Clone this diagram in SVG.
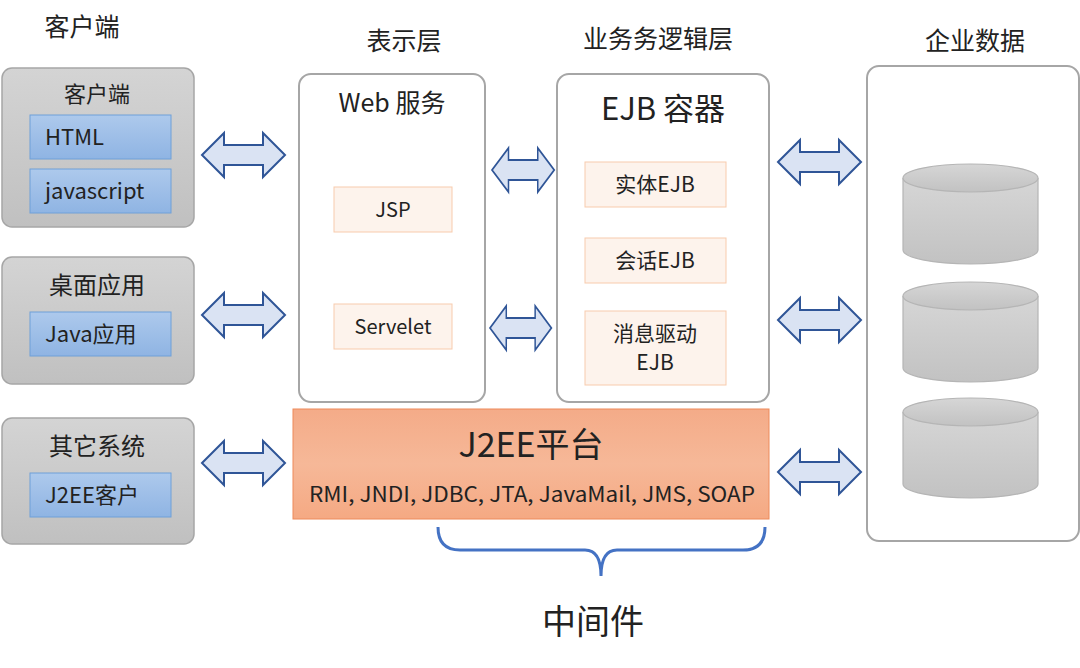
<svg xmlns="http://www.w3.org/2000/svg" width="1080" height="668" viewBox="0 0 1080 668">
<style>
text{font-family:"Noto Sans CJK SC","Noto Sans",sans-serif;fill:#222;text-anchor:middle}
.g{fill:url(#gr);stroke:#a6a6a6;stroke-width:1.5}
.b{fill:url(#bl);stroke:#6fa0d8;stroke-width:1}
.w{fill:#fff;stroke:#a6a6a6;stroke-width:2}
.o{fill:#fdf3ec;stroke:#f8cbad;stroke-width:1}
.ar{fill:#dae3f3;stroke:#2f5597;stroke-width:2}
.cy{fill:url(#cg);stroke:#b5b5b5;stroke-width:1.2}
</style>
<defs>
<linearGradient id="gr" x1="0" y1="0" x2="0" y2="1"><stop offset="0" stop-color="#d4d4d4"/><stop offset="1" stop-color="#c0c0c0"/></linearGradient>
<linearGradient id="bl" x1="0" y1="0" x2="0" y2="1"><stop offset="0" stop-color="#adc9ec"/><stop offset="1" stop-color="#8fb4e3"/></linearGradient>
<linearGradient id="og" x1="0" y1="0" x2="0" y2="1"><stop offset="0" stop-color="#f4ab88"/><stop offset="0.5" stop-color="#f6b898"/><stop offset="1" stop-color="#f5a983"/></linearGradient>
<linearGradient id="cg" x1="0" y1="0" x2="0" y2="1"><stop offset="0" stop-color="#d6d6d6"/><stop offset="1" stop-color="#c2c2c2"/></linearGradient>
<path id="arr" d="M0,0 L22,-22 L22,-10 L61,-10 L61,-22 L83,0 L61,22 L61,10 L22,10 L22,22 Z"/>
<g id="cyl"><path class="cy" d="M0,14 L0,86 A67.5,14 0 0 0 135,86 L135,14"/><ellipse class="cy" cx="67.5" cy="14" rx="67.5" ry="14"/></g>
</defs>
<text x="82" y="36" font-size="25">客户端</text>
<text x="404" y="50" font-size="25">表示层</text>
<text x="658" y="48" font-size="25">业务务逻辑层</text>
<text x="975" y="50" font-size="25">企业数据</text>
<g id="client1"><rect class="g" x="2" y="68" width="192" height="159" rx="10"/><text x="97" y="102" font-size="22">客户端</text>
<rect class="b" x="30" y="115" width="141" height="44"/><text x="45" y="145" font-size="22" style="text-anchor:start">HTML</text>
<rect class="b" x="30" y="169" width="141" height="44"/><text x="45" y="199" font-size="22" style="text-anchor:start">javascript</text></g>
<g id="client2"><rect class="g" x="2" y="257" width="192" height="127" rx="10"/><text x="97" y="294" font-size="24">桌面应用</text>
<rect class="b" x="30" y="312" width="141" height="44"/><text x="45" y="342" font-size="22" style="text-anchor:start">Java应用</text></g>
<g id="client3"><rect class="g" x="2" y="418" width="192" height="126" rx="10"/><text x="97" y="455" font-size="24">其它系统</text>
<rect class="b" x="30" y="473" width="141" height="44"/><text x="45" y="503" font-size="22" style="text-anchor:start">J2EE客户</text></g>
<g id="web"><rect class="w" x="299" y="74" width="186" height="328" rx="12"/><text x="392" y="112" font-size="25">Web 服务</text>
<rect class="o" x="334" y="187" width="118" height="45"/><text x="393" y="217" font-size="20">JSP</text>
<rect class="o" x="334" y="304" width="118" height="45"/><text x="393" y="334" font-size="20">Servelet</text></g>
<g id="ejb"><rect class="w" x="557" y="74" width="212" height="328" rx="12"/><text x="663" y="120" font-size="31">EJB 容器</text>
<rect class="o" x="585" y="162" width="141" height="45"/><text x="655" y="192" font-size="21">实体EJB</text>
<rect class="o" x="585" y="238" width="141" height="45"/><text x="655" y="268" font-size="21">会话EJB</text>
<rect class="o" x="585" y="311" width="141" height="74"/><text x="655" y="341" font-size="21">消息驱动</text><text x="655" y="370" font-size="21">EJB</text></g>
<g id="j2ee"><rect x="293" y="409" width="476" height="110" fill="url(#og)" stroke="#ed8a5a" stroke-width="1"/><text x="531" y="457" font-size="34">J2EE平台</text><text x="532" y="502" font-size="21" textLength="446" lengthAdjust="spacingAndGlyphs">RMI, JNDI, JDBC, JTA, JavaMail, JMS, SOAP</text></g>
<g id="data"><rect class="w" x="867" y="66" width="212" height="475" rx="12"/>
<use href="#cyl" x="903" y="164"/><use href="#cyl" x="903" y="282"/><use href="#cyl" x="903" y="398"/></g>
<g id="connectors">
<use class="ar" href="#arr" transform="translate(202,155)"/>
<use class="ar" href="#arr" transform="translate(202,315)"/>
<use class="ar" href="#arr" transform="translate(202,463)"/>
<use class="ar" href="#arr" transform="translate(492,170) scale(0.75,1)"/>
<use class="ar" href="#arr" transform="translate(490,328) scale(0.74,1)"/>
<use class="ar" href="#arr" transform="translate(778,162)"/>
<use class="ar" href="#arr" transform="translate(778,320)"/>
<use class="ar" href="#arr" transform="translate(778,472)"/>
<path d="M438,527 Q438,550 460,550 L585,550 Q601,550 601,576 Q601,550 617,550 L743,550 Q765,550 765,527" fill="none" stroke="#4472c4" stroke-width="3"/>
</g>
<text x="593" y="634" font-size="34">中间件</text>
</svg>
